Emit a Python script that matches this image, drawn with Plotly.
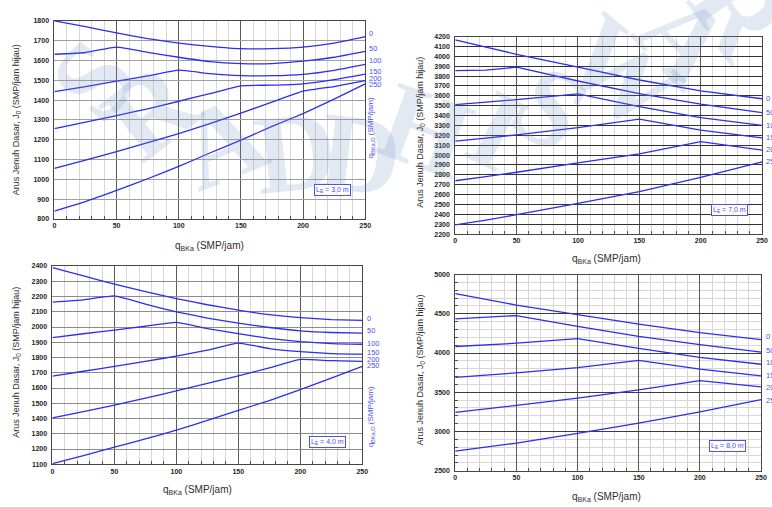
import plotly.graph_objects as go

W, H = 772, 507

# ---------------- DATA ----------------
series_labels = ["0", "50", "100", "150", "200", "250"]

# Panel A: L_E = 3,0 m
xa = [0, 25, 50, 75, 100, 125, 150, 175, 200, 225, 250]
ya = {
    "0":   [1800, 1770, 1739, 1710, 1687, 1671, 1659, 1659, 1667, 1687, 1720],
    "50":  [1631, 1640, 1667, 1641, 1616, 1594, 1584, 1584, 1596, 1616, 1646],
    "100": [1443, 1468, 1495, 1522, 1551, 1533, 1523, 1523, 1530, 1550, 1580],
    "150": [1256, 1289, 1322, 1356, 1394, 1432, 1472, 1475, 1482, 1503, 1531],
    "200": [1055, 1097, 1140, 1185, 1231, 1281, 1334, 1390, 1445, 1468, 1498],
    "250": [840, 888, 944, 1003, 1065, 1133, 1198, 1267, 1332, 1405, 1482],
}

# Panel B: L_E = 7,0 m
xb = [0, 25, 50, 100, 150, 200, 250]
yb = {
    "0":   [4167, 4093, 4020, 3890, 3760, 3650, 3570],
    "50":  [3855, 3860, 3890, 3750, 3623, 3515, 3430],
    "100": [3511, 3535, 3561, 3620, 3490, 3380, 3300],
    "150": [3142, 3172, 3205, 3277, 3363, 3253, 3173],
    "200": [2740, 2782, 2826, 2920, 3013, 3137, 3050],
    "250": [2293, 2342, 2396, 2510, 2630, 2773, 2930],
}

# Panel C: L_E = 4,0 m
xc = [0, 25, 50, 75, 100, 125, 150, 175, 200, 225, 250]
yc = {
    "0":   [2389, 2335, 2281, 2232, 2187, 2146, 2111, 2081, 2061, 2049, 2044],
    "50":  [2163, 2178, 2204, 2150, 2100, 2059, 2025, 1997, 1975, 1964, 1960],
    "100": [1930, 1956, 1980, 2005, 2031, 1990, 1956, 1926, 1904, 1891, 1887],
    "150": [1678, 1710, 1742, 1775, 1809, 1848, 1895, 1859, 1839, 1826, 1822],
    "200": [1404, 1445, 1488, 1533, 1581, 1630, 1680, 1732, 1788, 1779, 1775],
    "250": [1104, 1156, 1212, 1266, 1324, 1387, 1453, 1518, 1589, 1665, 1742],
}

# Panel D: L_E = 8,0 m
xd = [0, 50, 100, 150, 200, 250]
yd = {
    "0":   [4757, 4611, 4489, 4368, 4259, 4171],
    "50":  [4435, 4477, 4338, 4213, 4108, 4012],
    "100": [4083, 4125, 4183, 4058, 3945, 3857],
    "150": [3689, 3748, 3815, 3907, 3794, 3710],
    "200": [3245, 3333, 3425, 3530, 3647, 3568],
    "250": [2751, 2852, 2977, 3106, 3250, 3405],
}

panel_labels = ["3,0", "7,0", "4,0", "8,0"]

# ---------------- STYLE ----------------
LINE = "rgb(45,45,242)"
LBL = "rgb(80,80,235)"
TXT = "rgb(40,40,40)"

def px(x):
    return x / W

def py(y):
    return 1 - y / H

# panel pixel boxes: (left, right, top, bottom)
boxes = [
    (53, 367, 17, 218),
    (458, 768, 33, 233.3),
    (51, 364, 265.7, 466.7),
    (458, 767, 274.3, 473.3),
]
yranges = [(800, 1800), (2200, 4200), (1100, 2400), (2500, 5000)]
hgrid = ["rgb(160,160,160)", "rgb(50,50,50)", "rgb(140,140,140)", "rgb(60,60,60)"]

fig = go.Figure()
datasets = [(xa, ya), (xb, yb), (xc, yc), (xd, yd)]
for i, (xs, ys) in enumerate(datasets):
    sfx = "" if i == 0 else str(i + 1)
    for lab in series_labels:
        fig.add_trace(go.Scatter(
            x=xs, y=ys[lab], mode="lines", name=lab,
            line=dict(color=LINE, width=1.3, shape="spline", smoothing=0.4 if i in (0, 2) else 0.0),
            xaxis="x" + sfx, yaxis="y" + sfx, showlegend=False, hoverinfo="skip"))

layout = dict(
    width=W, height=H, margin=dict(l=0, r=0, t=0, b=0),
    paper_bgcolor="white", plot_bgcolor="rgba(0,0,0,0)",
    font=dict(family="Liberation Sans", color=TXT),
    showlegend=False,
)
annotations = []

# faint watermark letters (drawn first so other texts sit on top)
wm = [("S", 92, 77, -50), ("R", 150, 107, -38), ("A", 222, 140, -22),
      ("D", 297, 150, -6), ("D", 362, 152, 7), ("H", 428, 128, 20),
      ("I", 500, 128, 27), ("S", 555, 105, 33), ("W", 628, 70, 40),
      ("A", 690, 35, 47), ("R", 745, 8, 55)]
for ch, x, y, ang in wm:
    annotations.append(dict(x=px(x), y=py(y), xref="paper", yref="paper",
                            text=ch, textangle=ang, showarrow=False,
                            font=dict(size=112, family="Liberation Serif",
                                      color="rgba(110,145,195,0.2)", weight="bold"),
                            xanchor="center", yanchor="middle"))

for i, (l, r, t, b) in enumerate(boxes):
    sfx = "" if i == 0 else str(i + 1)
    xa_name = "xaxis" + sfx
    ya_name = "yaxis" + sfx
    y0, y1 = yranges[i]
    ydt = 500 if i == 3 else 100
    yaxis = dict(
        domain=[py(b), py(t)], range=[y0, y1], anchor="x" + sfx,
        dtick=ydt, tick0=0, showgrid=True, gridcolor=hgrid[i], gridwidth=1,
        showline=True, mirror=True, linecolor="rgb(70,70,70)", linewidth=1,
        zeroline=False, ticks="", ticklabelstandoff=3,
        tickfont=dict(size=7, color="rgb(30,30,30)", weight="bold"),
    )
    if i == 3:
        yaxis["minor"] = dict(dtick=100, showgrid=True, gridcolor="rgb(215,215,215)",
                              ticks="inside", ticklen=3, tickcolor="rgb(80,80,80)")
    xaxis = dict(
        domain=[px(l), px(r)], range=[0, 250], anchor="y" + sfx,
        dtick=50, tick0=0, showgrid=True, gridcolor="rgb(90,90,90)", gridwidth=1,
        showline=True, mirror=True, linecolor="rgb(70,70,70)", linewidth=1,
        zeroline=False, ticks="",
        tickfont=dict(size=7, color="rgb(30,30,30)", weight="bold"),
        minor=dict(dtick=10, showgrid=True, gridcolor="rgb(215,215,215)",
                   ticks="inside", ticklen=3, tickcolor="rgb(80,80,80)"),
    )
    layout[xa_name] = xaxis
    layout[ya_name] = yaxis

    # L_E box
    cx_box = [334, 735.5, 329, 733.5][i]
    cy_box = [189, 209, 444, 448.5][i]
    annotations.append(dict(
        x=px(cx_box), y=py(cy_box), xref="paper", yref="paper",
        text="L<sub>E</sub> = %s m" % panel_labels[i], showarrow=False,
        font=dict(size=7, color=LBL), bordercolor=LBL, borderwidth=1,
        borderpad=1, bgcolor="white", xanchor="center", yanchor="middle"))

# axis titles
ytitle = "Arus Jenuh Dasar, J<sub>0</sub> (SMP/jam hijau)"
for (x, y) in [(15, 117), (423, 130), (15, 363), (423, 371)]:
    annotations.append(dict(x=px(x), y=py(y), xref="paper", yref="paper",
                            text=ytitle, textangle=-90, showarrow=False,
                            font=dict(size=9, color="rgb(45,45,45)"),
                            xanchor="center", yanchor="middle"))
xtitle = "q<sub>BKa</sub> (SMP/jam)"
for (x, y) in [(210, 245), (611, 259), (198, 493), (611, 500)]:
    annotations.append(dict(x=px(x), y=py(y), xref="paper", yref="paper",
                            text=xtitle, showarrow=False,
                            font=dict(size=10, color="rgb(45,45,45)"),
                            xanchor="center", yanchor="middle"))

# right-side series labels
label_pos = [
    (369, [30, 45, 57, 68, 76, 82]),
    (770, [96, 110, 123, 135, 148, 160]),
    (367, [319, 331, 344, 353, 360, 367]),
    (770, [337, 351, 364, 377, 389, 402]),
]
for (x0, ys_) in label_pos:
    for lab, yy in zip(series_labels, ys_):
        annotations.append(dict(x=px(x0), y=py(yy), xref="paper", yref="paper",
                                text=lab, showarrow=False,
                                font=dict(size=7.5, color=LBL),
                                xanchor="left", yanchor="middle"))
for (x, y) in [(373, 126), (373, 419)]:
    annotations.append(dict(x=px(x), y=py(y), xref="paper", yref="paper",
                            text="q<sub>BKa,O</sub> (SMP/jam)", textangle=-90,
                            showarrow=False, font=dict(size=8, color=LBL),
                            xanchor="center", yanchor="middle"))

layout["annotations"] = annotations
fig.update_layout(**layout)
fig.write_html("out.html")
